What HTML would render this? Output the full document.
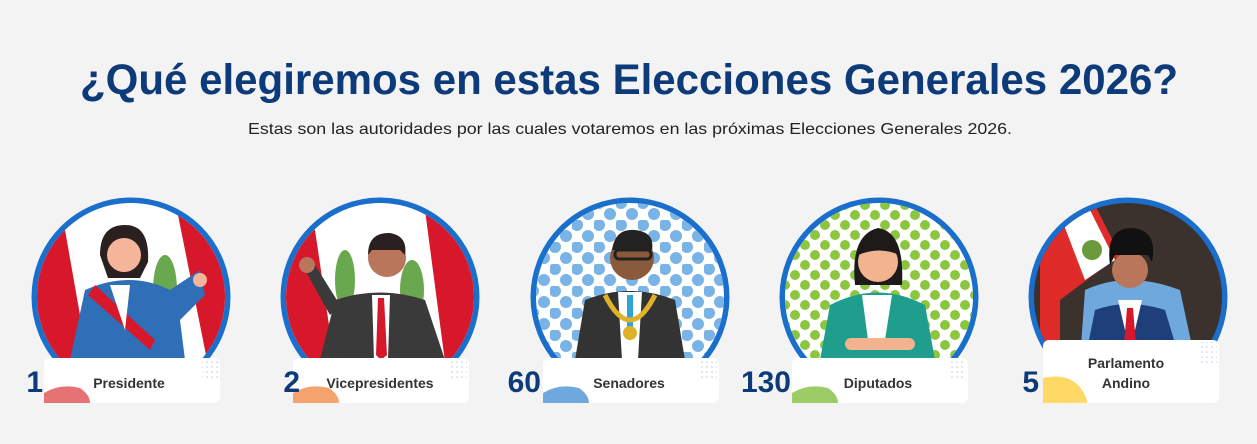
<!DOCTYPE html>
<html><head><meta charset="utf-8"><style>
html,body{margin:0;padding:0;background:#f3f3f3;}
body{width:1257px;height:439px;overflow:hidden;font-family:"Liberation Sans",sans-serif;}
</style></head><body>
<svg width="1257" height="439" viewBox="0 0 1257 439" xmlns="http://www.w3.org/2000/svg">
<defs>
<clipPath id="c1"><circle cx="131" cy="297" r="94"/></clipPath>
<clipPath id="c2"><circle cx="380" cy="297" r="94"/></clipPath>
<clipPath id="c3"><circle cx="630" cy="297" r="94"/></clipPath>
<clipPath id="c4"><circle cx="879" cy="297" r="94"/></clipPath>
<clipPath id="c5"><circle cx="1128" cy="297" r="94"/></clipPath>
<pattern id="pb" width="22" height="22" patternUnits="userSpaceOnUse"><circle cx="5" cy="5" r="6" fill="#7ab3e6"/><circle cx="16" cy="16" r="6" fill="#7ab3e6"/></pattern>
<pattern id="pg" width="20" height="20" patternUnits="userSpaceOnUse"><circle cx="5" cy="5" r="5" fill="#8cc63f"/><circle cx="15" cy="15" r="5" fill="#8cc63f"/></pattern>
<pattern id="pd" width="5" height="5" patternUnits="userSpaceOnUse"><circle cx="2" cy="2" r="0.8" fill="#b9cbe6"/></pattern>
</defs>
<rect width="1257" height="439" fill="#f3f3f3"/>
<text x="80" y="94" textLength="1098" lengthAdjust="spacingAndGlyphs" font-size="43" font-weight="bold" fill="#0d3a78" font-family="Liberation Sans, sans-serif">¿Qué elegiremos en estas Elecciones Generales 2026?</text>
<text x="248" y="134" textLength="764" lengthAdjust="spacingAndGlyphs" font-size="16" fill="#222">Estas son las autoridades por las cuales votaremos en las próximas Elecciones Generales 2026.</text>

<g fill="none" stroke="#1a6fcc" stroke-width="7">
<circle cx="131" cy="297" r="96"/><circle cx="380" cy="297" r="96"/><circle cx="630" cy="297" r="96"/><circle cx="879" cy="297" r="96"/><circle cx="1128" cy="297" r="96"/>
</g>

<g clip-path="url(#c1)">
<rect x="30" y="195" width="200" height="200" fill="#fff"/>
<polygon points="30,230 65,230 95,400 30,400" fill="#d7182a"/>
<polygon points="175,200 235,200 235,400 215,400" fill="#d7182a"/>
<ellipse cx="165" cy="290" rx="12" ry="35" fill="#6aa84f"/>
<path d="M70,360 L85,290 Q130,270 170,290 L200,270 L205,295 L180,320 L185,360 Z" fill="#2f6fb8"/>
<path d="M95,285 L155,340 L150,350 L88,295 Z" fill="#d7182a"/>
<path d="M110,285 L130,285 L125,330 Z" fill="#fff"/>
<path d="M100,255 Q100,225 125,225 Q150,225 148,262 L140,278 L108,278 Z" fill="#2a2020"/>
<circle cx="124" cy="255" r="17" fill="#f4b59b"/>
<circle cx="200" cy="280" r="7" fill="#f4b59b"/>
</g>
<g clip-path="url(#c2)">
<rect x="280" y="195" width="200" height="200" fill="#fff"/>
<polygon points="280,230 315,230 340,400 280,400" fill="#d7182a"/>
<polygon points="425,210 485,210 485,400 450,400" fill="#d7182a"/>
<ellipse cx="345" cy="280" rx="10" ry="30" fill="#6aa84f"/>
<ellipse cx="412" cy="290" rx="12" ry="30" fill="#6aa84f"/>
<path d="M320,360 L335,300 Q380,285 425,300 L445,360 Z" fill="#3a3a3a"/>
<path d="M305,270 L315,265 L340,305 L330,315 Z" fill="#3a3a3a"/>
<circle cx="307" cy="265" r="8" fill="#b9765a"/>
<path d="M372,295 L390,295 L388,360 L374,360 Z" fill="#fff"/>
<path d="M378,298 L384,298 L387,355 L381,360 L376,355 Z" fill="#d7182a"/>
<circle cx="387" cy="258" r="19" fill="#b9765a"/>
<path d="M368,255 Q368,232 390,233 Q408,236 405,255 L400,250 L372,250 Z" fill="#2a2020"/>
</g>
<g clip-path="url(#c3)">
<rect x="530" y="195" width="200" height="200" fill="#fff"/>
<rect x="530" y="195" width="200" height="200" fill="url(#pb)"/>
<path d="M575,360 L585,300 Q630,282 675,300 L685,360 Z" fill="#333"/>
<path d="M618,292 L642,292 L638,360 L622,360 Z" fill="#fff"/>
<rect x="627" y="295" width="6" height="35" fill="#2aa6d8"/>
<path d="M605,295 Q630,345 655,295" fill="none" stroke="#e0b22a" stroke-width="5"/>
<circle cx="630" cy="333" r="7" fill="#e0b22a"/>
<circle cx="632" cy="258" r="22" fill="#8a5a3c"/>
<path d="M612,250 Q615,228 635,230 Q655,232 652,250 Z" fill="#222"/>
<rect x="615" y="250" width="36" height="9" rx="4" fill="none" stroke="#222" stroke-width="3"/>
</g>
<g clip-path="url(#c4)">
<rect x="779" y="195" width="200" height="200" fill="#fff"/>
<rect x="779" y="195" width="200" height="200" fill="url(#pg)"/>
<path d="M855,285 Q850,235 878,228 Q905,232 902,285 Z" fill="#1e1a1a"/>
<path d="M820,360 L830,305 Q878,280 925,305 L935,360 Z" fill="#1f9e8e"/>
<path d="M862,295 L892,295 L885,340 L868,340 Z" fill="#fff"/>
<rect x="845" y="338" width="70" height="12" rx="6" fill="#f2b48e"/>
<circle cx="878" cy="262" r="20" fill="#f2b48e"/>
<path d="M858,255 Q862,236 880,236 Q898,238 899,255 Q880,246 858,255 Z" fill="#1e1a1a"/>
</g>
<g clip-path="url(#c5)">
<rect x="1028" y="195" width="200" height="200" fill="#3b322d"/>
<polygon points="1040,230 1095,205 1120,255 1060,300 1060,400 1040,400" fill="#e02b2b"/>
<polygon points="1062,220 1090,210 1115,260 1085,280" fill="#fff"/>
<circle cx="1092" cy="250" r="10" fill="#6a9a3a"/>
<path d="M1080,360 L1085,290 Q1128,270 1180,290 L1195,360 Z" fill="#6fa8dc"/>
<path d="M1085,360 L1095,310 Q1128,298 1165,310 L1180,360 Z" fill="#1f3f7a"/>
<path d="M1118,300 L1142,300 L1135,330 L1125,330 Z" fill="#fff"/>
<path d="M1127,308 L1133,308 L1136,345 L1130,352 L1124,345 Z" fill="#d7182a"/>
<circle cx="1130" cy="270" r="18" fill="#b9765a"/>
<path d="M1110,265 Q1105,228 1132,228 Q1158,230 1152,262 L1148,255 L1115,255 Z" fill="#111"/>
</g>

<g font-family="Liberation Sans, sans-serif">
<g><rect x="44" y="358" width="176" height="45" rx="6" fill="#fff"/><path d="M44,403 L44,393 Q60,383 80,388 Q90,395 90,403 Z" fill="#e57373"/><rect x="202" y="360" width="16" height="20" fill="url(#pd)"/>
<text x="43" y="392" text-anchor="end" font-size="30" font-weight="bold" fill="#0d3a78">1</text>
<text x="129" y="388" text-anchor="middle" font-size="14" font-weight="bold" fill="#333">Presidente</text></g>

<g><rect x="293" y="358" width="176" height="45" rx="6" fill="#fff"/><path d="M293,403 L293,393 Q309,383 329,388 Q339,395 339,403 Z" fill="#f4a36c"/><rect x="451" y="360" width="16" height="20" fill="url(#pd)"/>
<text x="300" y="392" text-anchor="end" font-size="30" font-weight="bold" fill="#0d3a78">2</text>
<text x="380" y="388" text-anchor="middle" font-size="14" font-weight="bold" fill="#333">Vicepresidentes</text></g>

<g><rect x="543" y="358" width="176" height="45" rx="6" fill="#fff"/><path d="M543,403 L543,393 Q559,383 579,388 Q589,395 589,403 Z" fill="#6fa8dc"/><rect x="701" y="360" width="16" height="20" fill="url(#pd)"/>
<text x="541" y="392" text-anchor="end" font-size="30" font-weight="bold" fill="#0d3a78">60</text>
<text x="629" y="388" text-anchor="middle" font-size="14" font-weight="bold" fill="#333">Senadores</text></g>

<g><rect x="792" y="358" width="176" height="45" rx="6" fill="#fff"/><path d="M792,403 L792,393 Q808,383 828,388 Q838,395 838,403 Z" fill="#9ccc65"/><rect x="950" y="360" width="16" height="20" fill="url(#pd)"/>
<text x="791" y="392" text-anchor="end" font-size="30" font-weight="bold" fill="#0d3a78">130</text>
<text x="878" y="388" text-anchor="middle" font-size="14" font-weight="bold" fill="#333">Diputados</text></g>

<g><rect x="1043" y="340" width="176" height="63" rx="6" fill="#fff"/><path d="M1043,403 L1043,378 Q1070,372 1082,390 Q1087,397 1087,403 Z" fill="#ffd966"/><rect x="1201" y="342" width="16" height="24" fill="url(#pd)"/>
<text x="1039" y="392" text-anchor="end" font-size="30" font-weight="bold" fill="#0d3a78">5</text>
<text x="1126" y="368" text-anchor="middle" font-size="14" font-weight="bold" fill="#333">Parlamento</text>
<text x="1126" y="388" text-anchor="middle" font-size="14" font-weight="bold" fill="#333">Andino</text></g>
</g>
</svg>
</body></html>
